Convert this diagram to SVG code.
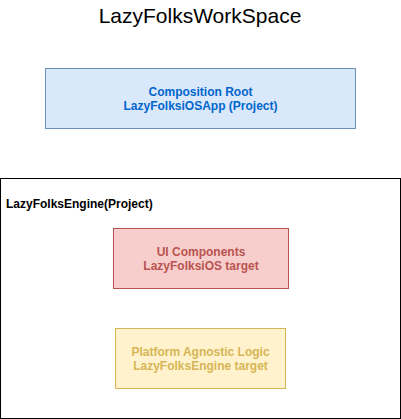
<svg xmlns="http://www.w3.org/2000/svg" width="401" height="419" viewBox="0 0 401 419">
<style>
text{font-family:"Liberation Sans",Arial,Helvetica,sans-serif}
.lbl{font-size:12px;font-weight:bold;text-anchor:middle}
</style>
<rect width="401" height="419" fill="#ffffff"/>
<g id="title"><text x="200" y="23" font-size="21" text-anchor="middle" fill="#000">LazyFolksWorkSpace</text></g>
<g id="composition-root">
<rect x="45.5" y="68.5" width="310" height="60" fill="#dae8fc" stroke="#6c8ebf"/>
<text class="lbl" fill="#0066cc"><tspan x="200.5" y="96">Composition Root</tspan><tspan x="200.5" y="110">LazyFolksiOSApp (Project)</tspan></text>
</g>
<g id="engine-project">
<rect x="0.5" y="178.5" width="400" height="240" fill="#ffffff" stroke="#000000"/>
<text x="6" y="208" font-size="12" font-weight="bold" fill="#000">LazyFolksEngine(Project)</text>
</g>
<g id="ui-components">
<rect x="113.5" y="228.5" width="175" height="60" fill="#f8cecc" stroke="#b85450"/>
<text class="lbl" fill="#b85450"><tspan x="201" y="256">UI Components</tspan><tspan x="201" y="270">LazyFolksiOS target</tspan></text>
</g>
<g id="platform-logic">
<rect x="115.5" y="328.5" width="170" height="60" fill="#fff2cc" stroke="#d6b656"/>
<text class="lbl" fill="#d6b656"><tspan x="200.5" y="356">Platform Agnostic Logic</tspan><tspan x="200.5" y="370">LazyFolksEngine target</tspan></text>
</g>
<g id="connectors"></g>
</svg>
